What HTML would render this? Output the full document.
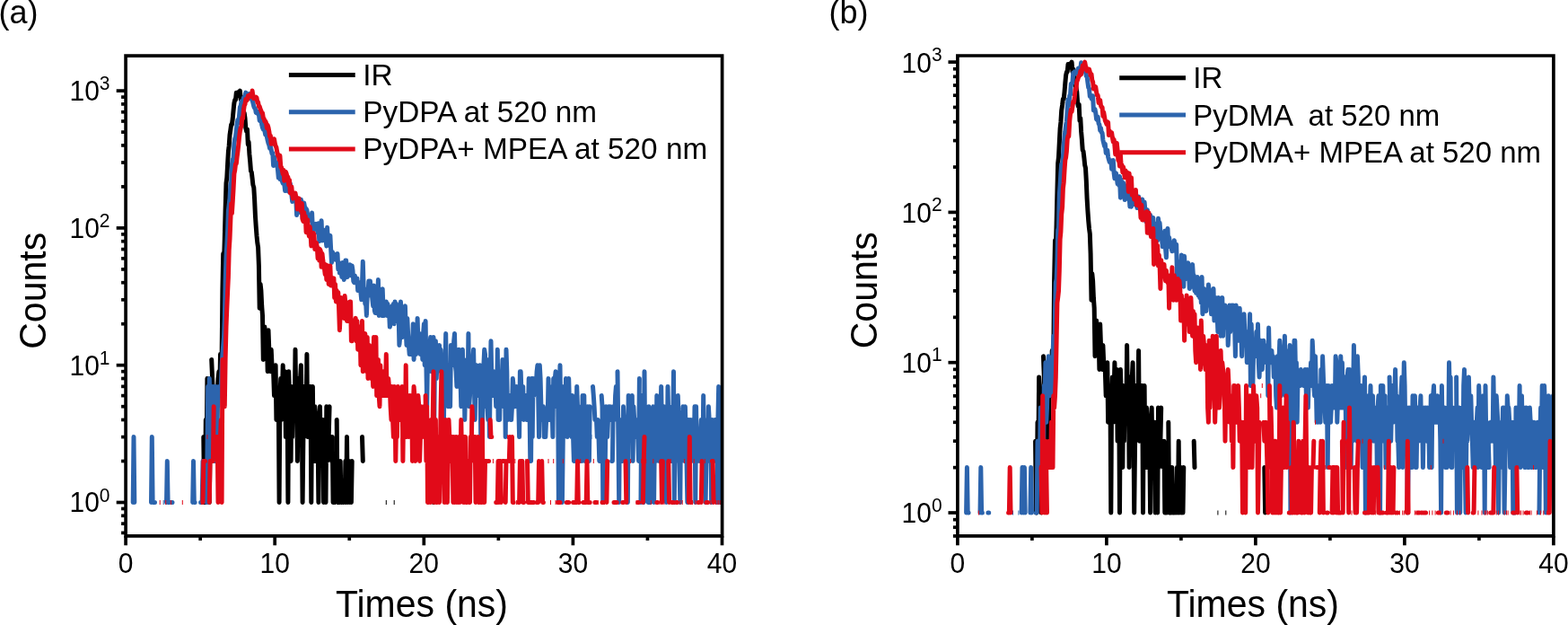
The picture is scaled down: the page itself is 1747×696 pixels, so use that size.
<!DOCTYPE html>
<html><head><meta charset="utf-8"><title>Fluorescence decay</title>
<style>html,body{margin:0;padding:0;background:#fff;}body{width:1747px;height:696px;overflow:hidden;}svg{display:block;}</style>
</head><body>
<svg width="1747" height="696" viewBox="0 0 1747 696" font-family='"Liberation Sans", Arial, sans-serif'>
<rect width="1747" height="696" fill="#fff"/>
<clipPath id="clipa"><rect x="140.1" y="62.1" width="664.5" height="534.8"/></clipPath>
<g clip-path="url(#clipa)" fill="none" stroke-width="5" stroke-linejoin="round" stroke-linecap="round">
<path d="M226.8 486.6 L227.6 559.5 L228.5 559.5 L229.3 467.5 L230.1 513.5 L230.9 421.5 L231.7 430.4 L232.5 440.6 L233.3 559.5 L234.1 486.6 M235.7 400.4 L236.6 421.5 L237.4 440.6 L238.2 452.7 L239.0 430.4 L239.8 452.7 L240.6 513.5 L241.4 513.5 L242.2 440.6 L243.0 421.5 L243.9 413.7 L244.7 440.6 L245.5 394.6 L246.3 394.6 L247.1 400.4 L247.9 323.6 L248.7 282.5 L249.5 292.4 L250.3 265.5 L251.1 234.0 L252.0 204.0 L252.8 197.8 L253.6 183.0 L254.4 168.9 L255.2 162.2 L256.0 150.4 L256.8 144.8 L257.6 138.8 L258.4 138.8 L259.3 131.6 L260.1 122.7 L260.9 114.8 L261.7 111.3 L262.5 111.2 L263.3 103.3 L264.1 106.7 L264.9 104.9 L265.7 102.6 L266.5 104.3 L267.4 101.1 L268.2 110.8 L269.0 108.2 L269.8 113.8 L270.6 116.6 L271.4 125.4 L272.2 125.9 L273.0 131.6 L273.8 142.5 L274.7 146.3 L275.5 144.2 L276.3 160.9 L277.1 158.2 L277.9 171.7 L278.7 180.1 L279.5 190.5 L280.3 191.8 L281.1 198.6 L281.9 205.9 L282.8 208.9 L283.6 221.9 L284.4 239.6 L285.2 251.9 L286.0 262.4 L286.8 270.4 L287.6 275.7 L288.4 296.0 L289.2 343.3 L290.1 316.4 L290.9 323.6 L291.7 340.8 L292.5 351.4 L293.3 400.4 L294.1 364.1 L294.9 364.1 L295.7 384.4 L296.5 389.3 L297.4 379.8 L298.2 413.7 L299.0 367.7 L299.8 389.3 L300.6 400.4 L301.4 413.7 L302.2 389.3 L303.0 406.7 L303.8 413.7 L304.6 413.7 L305.5 440.6 L306.3 413.7 L307.1 406.7 L307.9 467.5 L308.7 467.5 L309.5 452.7 L310.3 440.6 L311.1 559.5 L311.9 440.6 L312.8 421.5 L313.6 467.5 L314.4 440.6 L315.2 406.7 L316.0 440.6 L316.8 421.5 L317.6 413.7 L318.4 486.6 L319.2 430.4 L320.0 430.4 L320.9 559.5 L321.7 413.7 L322.5 440.6 L323.3 486.6 L324.1 513.5 L324.9 430.4 L325.7 486.6 L326.5 440.6 L327.3 430.4 L328.2 467.5 L329.0 389.3 L329.8 452.7 L330.6 430.4 L331.4 513.5 L332.2 421.5 L333.0 467.5 L333.8 440.6 L334.6 421.5 L335.4 406.7 L336.3 467.5 L337.1 559.5 L337.9 486.6 L338.7 430.4 L339.5 440.6 L340.3 440.6 L341.1 467.5 L341.9 394.6 L342.7 486.6 L343.6 452.7 L344.4 486.6 L345.2 430.4 L346.0 430.4 L346.8 559.5 L347.6 440.6 L348.4 430.4 L349.2 513.5 L350.0 513.5 L350.8 452.7 L351.7 467.5 L352.5 513.5 L353.3 486.6 L354.1 486.6 L354.9 559.5 L355.7 467.5 L356.5 452.7 L357.3 513.5 L358.1 467.5 L359.0 467.5 L359.8 467.5 L360.6 559.5 L361.4 513.5 L362.2 486.6 L363.0 559.5 L363.8 452.7 L364.6 513.5 L365.4 486.6 L366.2 486.6 L367.1 452.7 M368.7 486.6 L369.5 513.5 L370.3 486.6 L371.1 559.5 L371.9 559.5 M375.2 467.5 L376.0 559.5 L376.8 559.5 M378.4 559.5 L379.2 513.5 L380.0 559.5 L380.8 559.5 M384.1 559.5 L384.9 513.5 L385.7 559.5 L386.5 486.6 L387.3 559.5 M388.9 513.5 L389.8 559.5 M391.4 559.5 L392.2 513.5 M403.5 486.6 L404.3 513.5 M482.2 513.5 L483.0 559.5" stroke="#000000"/>
<path d="M373.0 559.5h1 M382.0 559.5h1 M429.8 559.5h1 M438.7 559.5h1" stroke="#000000" stroke-linecap="butt"/>
<path d="M148.2 559.5 L149.0 486.6 L149.8 559.5 M168.5 559.5 L169.3 486.6 L170.1 559.5 L170.9 559.5 L171.7 559.5 L172.5 559.5 M185.5 559.5 L186.3 513.5 L187.1 559.5 L187.9 559.5 L188.7 559.5 M191.2 559.5 L192.0 559.5 M214.7 559.5 L215.5 513.5 L216.3 559.5 L217.1 559.5 M223.6 559.5 L224.4 559.5 L225.2 559.5 L226.0 513.5 M227.6 513.5 L228.5 513.5 L229.3 513.5 L230.1 559.5 L230.9 513.5 L231.7 430.4 L232.5 559.5 L233.3 421.5 L234.1 452.7 L234.9 513.5 M236.6 430.4 L237.4 486.6 L238.2 513.5 L239.0 430.4 L239.8 513.5 L240.6 430.4 L241.4 486.6 L242.2 452.7 L243.0 452.7 L243.9 430.4 L244.7 430.4 L245.5 440.6 L246.3 430.4 L247.1 406.7 L247.9 394.6 L248.7 384.4 L249.5 375.5 L250.3 354.4 L251.1 313.1 L252.0 285.6 L252.8 273.0 L253.6 258.0 L254.4 234.5 L255.2 227.9 L256.0 221.1 L256.8 205.9 L257.6 203.4 L258.4 183.0 L259.3 177.5 L260.1 176.1 L260.9 159.6 L261.7 154.7 L262.5 152.5 L263.3 144.9 L264.1 138.1 L264.9 133.5 L265.7 136.9 L266.5 129.2 L267.4 119.2 L268.2 117.8 L269.0 112.8 L269.8 114.1 L270.6 113.5 L271.4 108.8 L272.2 109.5 L273.0 106.8 L273.8 103.1 L274.7 106.4 L275.5 104.5 L276.3 105.8 L277.1 107.0 L277.9 104.6 L278.7 108.0 L279.5 110.0 L280.3 109.2 L281.1 111.3 L281.9 114.8 L282.8 118.4 L283.6 120.2 L284.4 120.9 L285.2 125.3 L286.0 125.8 L286.8 124.2 L287.6 125.8 L288.4 127.2 L289.2 134.2 L290.1 134.7 L290.9 133.5 L291.7 139.0 L292.5 142.1 L293.3 144.1 L294.1 139.8 L294.9 145.8 L295.7 149.9 L296.5 146.6 L297.4 152.5 L298.2 156.5 L299.0 159.6 L299.8 161.4 L300.6 165.3 L301.4 163.2 L302.2 166.7 L303.0 171.0 L303.8 170.2 L304.6 184.4 L305.5 174.9 L306.3 181.4 L307.1 183.9 L307.9 180.8 L308.7 181.9 L309.5 189.2 L310.3 198.1 L311.1 195.3 L311.9 199.5 L312.8 191.8 L313.6 200.1 L314.4 201.9 L315.2 204.3 L316.0 201.6 L316.8 205.3 L317.6 212.4 L318.4 212.4 L319.2 198.3 L320.0 201.9 L320.9 212.7 L321.7 213.4 L322.5 208.2 L323.3 204.3 L324.1 209.6 L324.9 217.1 L325.7 224.4 L326.5 220.7 L327.3 218.3 L328.2 224.0 L329.0 217.1 L329.8 221.5 L330.6 239.6 L331.4 227.4 L332.2 224.4 L333.0 223.1 L333.8 235.0 L334.6 236.5 L335.4 222.3 L336.3 227.0 L337.1 243.5 L337.9 234.5 L338.7 226.1 L339.5 230.2 L340.3 231.6 L341.1 232.5 L341.9 234.0 L342.7 239.1 L343.6 240.7 L344.4 241.3 L345.2 243.5 L346.0 241.3 L346.8 245.8 L347.6 237.0 L348.4 256.6 L349.2 248.8 L350.0 255.2 L350.8 250.0 L351.7 249.4 L352.5 250.7 L353.3 254.6 L354.1 259.4 L354.9 248.8 L355.7 268.7 L356.5 253.2 L357.3 253.2 L358.1 245.8 L359.0 267.9 L359.8 255.9 L360.6 255.9 L361.4 258.0 L362.2 265.5 L363.0 267.1 L363.8 273.9 L364.6 253.2 L365.4 271.2 L366.2 273.0 L367.1 263.9 L367.9 262.4 L368.7 278.5 L369.5 292.4 L370.3 280.5 L371.1 282.5 L371.9 283.5 L372.7 288.9 L373.5 283.5 L374.4 287.8 L375.2 290.0 L376.0 282.5 L376.8 299.9 L377.6 292.4 L378.4 304.0 L379.2 293.6 L380.0 298.6 L380.8 308.4 L381.6 292.4 L382.5 299.9 L383.3 311.5 L384.1 305.4 L384.9 290.0 L385.7 290.0 L386.5 308.4 L387.3 308.4 L388.1 304.0 L388.9 301.2 L389.8 294.8 L390.6 305.4 L391.4 306.9 L392.2 296.0 L393.0 301.2 L393.8 313.1 L394.6 314.7 L395.4 306.9 L396.2 314.7 L397.1 309.9 L397.9 309.9 L398.7 323.6 L399.5 318.1 L400.3 321.7 L401.1 314.7 L401.9 325.5 L402.7 333.8 L403.5 316.4 L404.3 291.2 L405.2 321.7 L406.0 321.7 L406.8 338.4 L407.6 336.0 L408.4 351.4 L409.2 329.5 L410.0 327.5 L410.8 313.1 L411.6 321.7 L412.5 313.1 L413.3 329.5 L414.1 325.5 L414.9 333.8 L415.7 340.8 L416.5 318.1 L417.3 345.9 L418.1 348.6 L418.9 348.6 L419.7 340.8 L420.6 331.6 L421.4 311.5 L422.2 351.4 L423.0 338.4 L423.8 336.0 L424.6 336.0 L425.4 351.4 L426.2 321.7 L427.0 343.3 L427.9 351.4 L428.7 348.6 L429.5 340.8 L430.3 336.0 L431.1 351.4 L431.9 338.4 L432.7 345.9 L433.5 345.9 L434.3 364.1 L435.1 360.7 L436.0 343.3 L436.8 340.8 L437.6 351.4 L438.4 338.4 L439.2 360.7 L440.0 336.0 L440.8 340.8 L441.6 338.4 L442.4 345.9 L443.3 357.5 L444.1 348.6 L444.9 384.4 L445.7 375.5 L446.5 336.0 L447.3 367.7 L448.1 375.5 L448.9 364.1 L449.7 357.5 L450.5 357.5 L451.4 340.8 L452.2 367.7 L453.0 384.4 L453.8 354.4 L454.6 371.5 L455.4 384.4 L456.2 394.6 L457.0 384.4 L457.8 389.3 L458.7 394.6 L459.5 384.4 L460.3 360.7 L461.1 400.4 L461.9 379.8 L462.7 364.1 L463.5 394.6 L464.3 389.3 L465.1 354.4 L465.9 379.8 L466.8 389.3 L467.6 371.5 L468.4 394.6 L469.2 384.4 L470.0 379.8 L470.8 400.4 L471.6 371.5 L472.4 360.7 L473.2 406.7 L474.1 357.5 L474.9 406.7 L475.7 452.7 L476.5 400.4 L477.3 406.7 L478.1 379.8 L478.9 384.4 L479.7 375.5 L480.5 413.7 L481.3 400.4 L482.2 384.4 L483.0 375.5 L483.8 467.5 L484.6 389.3 L485.4 379.8 L486.2 421.5 L487.0 406.7 L487.8 413.7 L488.6 400.4 L489.5 384.4 L490.3 406.7 L491.1 389.3 L491.9 406.7 L492.7 400.4 L493.5 440.6 L494.3 486.6 L495.1 406.7 L495.9 413.7 L496.7 371.5 L497.6 440.6 L498.4 440.6 L499.2 452.7 L500.0 406.7 L500.8 413.7 L501.6 452.7 L502.4 384.4 L503.2 400.4 L504.0 406.7 L504.9 394.6 L505.7 379.8 L506.5 371.5 L507.3 406.7 L508.1 413.7 L508.9 430.4 L509.7 400.4 L510.5 406.7 L511.3 389.3 L512.2 430.4 L513.0 421.5 L513.8 452.7 L514.6 400.4 L515.4 389.3 L516.2 430.4 L517.0 400.4 L517.8 467.5 L518.6 430.4 L519.4 406.7 L520.3 421.5 L521.1 440.6 L521.9 371.5 L522.7 452.7 L523.5 440.6 L524.3 413.7 L525.1 430.4 L525.9 413.7 L526.7 400.4 L527.6 389.3 L528.4 430.4 L529.2 467.5 L530.0 413.7 L530.8 406.7 L531.6 440.6 L532.4 421.5 L533.2 440.6 L534.0 413.7 L534.8 406.7 L535.7 486.6 L536.5 421.5 L537.3 486.6 L538.1 430.4 L538.9 406.7 L539.7 389.3 L540.5 394.6 L541.3 452.7 L542.1 400.4 L543.0 452.7 L543.8 467.5 L544.6 400.4 L545.4 486.6 L546.2 421.5 L547.0 379.8 L547.8 421.5 L548.6 430.4 L549.4 440.6 L550.2 413.7 L551.1 440.6 L551.9 430.4 L552.7 452.7 L553.5 452.7 L554.3 389.3 L555.1 467.5 L555.9 413.7 L556.7 467.5 L557.5 421.5 L558.4 421.5 L559.2 421.5 L560.0 400.4 L560.8 452.7 L561.6 430.4 L562.4 406.7 L563.2 486.6 L564.0 389.3 L564.8 413.7 L565.6 467.5 L566.5 452.7 L567.3 452.7 L568.1 440.6 L568.9 467.5 L569.7 467.5 L570.5 452.7 L571.3 421.5 L572.1 430.4 L572.9 440.6 L573.8 452.7 L574.6 440.6 L575.4 430.4 L576.2 452.7 L577.0 452.7 L577.8 452.7 L578.6 486.6 L579.4 413.7 L580.2 413.7 L581.0 440.6 L581.9 440.6 L582.7 430.4 L583.5 467.5 L584.3 440.6 L585.1 440.6 L585.9 440.6 L586.7 467.5 L587.5 440.6 L588.3 467.5 L589.2 421.5 L590.0 452.7 L590.8 513.5 L591.6 513.5 L592.4 421.5 L593.2 486.6 L594.0 421.5 L594.8 440.6 L595.6 421.5 L596.4 430.4 L597.3 430.4 L598.1 413.7 L598.9 406.7 L599.7 440.6 L600.5 486.6 L601.3 406.7 L602.1 421.5 L602.9 452.7 L603.7 467.5 L604.6 452.7 L605.4 452.7 L606.2 486.6 L607.0 467.5 L607.8 486.6 L608.6 467.5 L609.4 467.5 L610.2 467.5 L611.0 421.5 L611.9 467.5 L612.7 430.4 L613.5 467.5 L614.3 467.5 L615.1 452.7 L615.9 486.6 L616.7 421.5 L617.5 452.7 L618.3 421.5 L619.1 413.7 L620.0 452.7 L620.8 430.4 L621.6 430.4 L622.4 559.5 L623.2 440.6 L624.0 406.7 L624.8 467.5 L625.6 430.4 L626.4 559.5 L627.3 486.6 L628.1 430.4 L628.9 467.5 L629.7 467.5 L630.5 421.5 L631.3 452.7 L632.1 486.6 L632.9 430.4 L633.7 421.5 L634.5 452.7 L635.4 467.5 L636.2 467.5 L637.0 486.6 L637.8 440.6 L638.6 486.6 L639.4 513.5 L640.2 513.5 L641.0 452.7 L641.8 486.6 L642.7 430.4 L643.5 452.7 L644.3 513.5 L645.1 467.5 L645.9 513.5 L646.7 467.5 L647.5 452.7 L648.3 513.5 L649.1 440.6 L649.9 452.7 L650.8 440.6 L651.6 513.5 L652.4 486.6 L653.2 452.7 L654.0 513.5 L654.8 452.7 L655.6 467.5 L656.4 513.5 L657.2 452.7 M660.5 430.4 L661.3 440.6 L662.1 452.7 L662.9 467.5 L663.7 467.5 L664.5 467.5 L665.3 486.6 L666.2 467.5 L667.0 486.6 L667.8 513.5 L668.6 513.5 M670.2 440.6 L671.0 452.7 L671.8 559.5 L672.6 486.6 L673.5 513.5 L674.3 513.5 L675.1 452.7 L675.9 467.5 L676.7 486.6 L677.5 467.5 L678.3 452.7 L679.1 467.5 L679.9 452.7 M681.6 513.5 L682.4 513.5 L683.2 452.7 L684.0 452.7 L684.8 467.5 L685.6 440.6 L686.4 430.4 M688.0 413.7 L688.9 486.6 L689.7 559.5 L690.5 467.5 L691.3 513.5 L692.1 467.5 L692.9 513.5 L693.7 513.5 L694.5 452.7 L695.3 467.5 L696.1 467.5 L697.0 486.6 L697.8 513.5 M699.4 559.5 L700.2 440.6 L701.0 486.6 L701.8 467.5 L702.6 467.5 L703.4 452.7 L704.3 440.6 L705.1 513.5 L705.9 452.7 L706.7 467.5 L707.5 486.6 L708.3 486.6 L709.1 486.6 L709.9 467.5 L710.7 486.6 L711.6 513.5 L712.4 421.5 M714.0 559.5 L714.8 440.6 L715.6 467.5 L716.4 486.6 L717.2 559.5 L718.0 413.7 L718.8 513.5 L719.7 486.6 L720.5 467.5 L721.3 486.6 L722.1 559.5 L722.9 452.7 L723.7 486.6 L724.5 559.5 L725.3 513.5 L726.1 467.5 L727.0 486.6 L727.8 452.7 L728.6 559.5 L729.4 486.6 L730.2 467.5 L731.0 513.5 L731.8 440.6 L732.6 486.6 M734.2 513.5 L735.1 467.5 L735.9 467.5 L736.7 430.4 L737.5 486.6 L738.3 452.7 L739.1 513.5 L739.9 452.7 L740.7 513.5 L741.5 486.6 L742.4 559.5 L743.2 513.5 L744.0 430.4 L744.8 467.5 L745.6 452.7 L746.4 467.5 L747.2 486.6 L748.0 513.5 L748.8 513.5 L749.6 486.6 L750.5 413.7 L751.3 559.5 L752.1 486.6 L752.9 452.7 L753.7 513.5 M755.3 440.6 L756.1 467.5 L756.9 513.5 L757.8 559.5 L758.6 467.5 L759.4 486.6 L760.2 467.5 L761.0 452.7 L761.8 467.5 L762.6 513.5 L763.4 452.7 L764.2 486.6 L765.0 513.5 L765.9 559.5 L766.7 467.5 L767.5 513.5 L768.3 486.6 L769.1 467.5 L769.9 513.5 L770.7 513.5 L771.5 467.5 L772.3 467.5 L773.2 513.5 L774.0 452.7 L774.8 559.5 L775.6 452.7 L776.4 513.5 L777.2 513.5 M778.8 486.6 L779.6 513.5 L780.4 486.6 L781.3 467.5 L782.1 467.5 L782.9 513.5 L783.7 440.6 L784.5 513.5 L785.3 467.5 L786.1 559.5 L786.9 513.5 L787.7 467.5 L788.6 513.5 L789.4 452.7 L790.2 467.5 L791.0 467.5 L791.8 467.5 L792.6 559.5 L793.4 467.5 L794.2 486.6 L795.0 486.6 L795.8 513.5 L796.7 467.5 L797.5 467.5 M799.1 559.5 L799.9 467.5 L800.7 430.4 L801.5 486.6 L802.3 559.5 L803.1 559.5 L804.0 467.5" stroke="#2C64AD"/>
<path d="M181.7 559.5h1 M658.4 486.6h1" stroke="#2C64AD" stroke-linecap="butt"/>
<path d="M226.0 559.5 L226.8 513.5 L227.6 513.5 L228.5 513.5 M233.3 559.5 L234.1 513.5 L234.9 513.5 L235.7 513.5 L236.6 513.5 L237.4 513.5 L238.2 452.7 M241.4 486.6 L242.2 486.6 L243.0 559.5 L243.9 513.5 L244.7 486.6 L245.5 486.6 L246.3 467.5 L247.1 559.5 L247.9 400.4 L248.7 400.4 L249.5 440.6 L250.3 452.7 L251.1 400.4 L252.0 364.1 L252.8 343.3 L253.6 325.5 L254.4 308.4 L255.2 278.5 L256.0 266.3 L256.8 246.4 L257.6 227.0 L258.4 237.5 L259.3 223.5 L260.1 209.9 L260.9 193.6 L261.7 189.7 L262.5 182.6 L263.3 182.3 L264.1 174.9 L264.9 168.9 L265.7 161.7 L266.5 153.5 L267.4 146.0 L268.2 142.4 L269.0 140.3 L269.8 131.2 L270.6 131.9 L271.4 123.4 L272.2 117.6 L273.0 116.1 L273.8 110.6 L274.7 112.1 L275.5 111.0 L276.3 106.7 L277.1 106.6 L277.9 105.8 L278.7 106.9 L279.5 104.9 L280.3 107.7 L281.1 101.1 L281.9 107.0 L282.8 109.6 L283.6 109.7 L284.4 109.4 L285.2 108.2 L286.0 108.9 L286.8 114.0 L287.6 113.8 L288.4 118.5 L289.2 118.6 L290.1 121.5 L290.9 123.3 L291.7 125.7 L292.5 125.8 L293.3 131.2 L294.1 132.1 L294.9 135.2 L295.7 134.9 L296.5 136.8 L297.4 142.7 L298.2 139.5 L299.0 142.1 L299.8 146.2 L300.6 151.9 L301.4 151.2 L302.2 160.3 L303.0 154.5 L303.8 155.7 L304.6 160.1 L305.5 154.8 L306.3 159.6 L307.1 162.7 L307.9 164.1 L308.7 169.1 L309.5 173.1 L310.3 174.1 L311.1 178.0 L311.9 173.1 L312.8 185.8 L313.6 186.5 L314.4 190.0 L315.2 193.6 L316.0 189.5 L316.8 201.3 L317.6 191.3 L318.4 191.5 L319.2 193.4 L320.0 197.2 L320.9 197.2 L321.7 205.9 L322.5 200.4 L323.3 214.9 L324.1 213.1 L324.9 207.9 L325.7 217.1 L326.5 221.1 L327.3 217.1 L328.2 219.9 L329.0 214.9 L329.8 219.9 L330.6 220.3 L331.4 233.0 L332.2 220.7 L333.0 221.1 L333.8 232.0 L334.6 231.1 L335.4 235.0 L336.3 226.6 L337.1 244.1 L337.9 246.4 L338.7 236.5 L339.5 246.4 L340.3 240.7 L341.1 258.7 L341.9 248.2 L342.7 244.6 L343.6 258.7 L344.4 263.1 L345.2 252.6 L346.0 259.4 L346.8 273.9 L347.6 261.6 L348.4 267.9 L349.2 259.4 L350.0 261.6 L350.8 277.6 L351.7 272.1 L352.5 270.4 L353.3 274.8 L354.1 287.8 L354.9 276.6 L355.7 290.0 L356.5 277.6 L357.3 279.5 L358.1 297.3 L359.0 282.5 L359.8 290.0 L360.6 294.8 L361.4 298.6 L362.2 305.4 L363.0 294.8 L363.8 311.5 L364.6 299.9 L365.4 296.0 L366.2 316.4 L367.1 304.0 L367.9 296.0 L368.7 318.1 L369.5 318.1 L370.3 318.1 L371.1 313.1 L371.9 309.9 L372.7 331.6 L373.5 316.4 L374.4 336.0 L375.2 323.6 L376.0 336.0 L376.8 325.5 L377.6 343.3 L378.4 367.7 L379.2 348.6 L380.0 331.6 L380.8 333.8 L381.6 333.8 L382.5 343.3 L383.3 354.4 L384.1 329.5 L384.9 338.4 L385.7 336.0 L386.5 357.5 L387.3 357.5 L388.1 354.4 L388.9 343.3 L389.8 336.0 L390.6 336.0 L391.4 379.8 L392.2 379.8 L393.0 364.1 L393.8 375.5 L394.6 367.7 L395.4 357.5 L396.2 354.4 L397.1 379.8 L397.9 357.5 L398.7 389.3 L399.5 379.8 L400.3 367.7 L401.1 364.1 L401.9 406.7 L402.7 389.3 L403.5 357.5 L404.3 413.7 L405.2 384.4 L406.0 406.7 L406.8 371.5 L407.6 394.6 L408.4 413.7 L409.2 375.5 L410.0 421.5 L410.8 384.4 L411.6 384.4 L412.5 389.3 L413.3 421.5 L414.1 394.6 L414.9 413.7 L415.7 430.4 L416.5 375.5 L417.3 384.4 L418.1 400.4 L418.9 375.5 L419.7 440.6 L420.6 421.5 L421.4 400.4 L422.2 440.6 L423.0 452.7 L423.8 406.7 L424.6 440.6 L425.4 430.4 L426.2 440.6 L427.0 413.7 L427.9 413.7 L428.7 440.6 L429.5 430.4 L430.3 394.6 L431.1 440.6 L431.9 430.4 L432.7 421.5 L433.5 430.4 L434.3 430.4 L435.1 452.7 L436.0 467.5 L436.8 430.4 L437.6 467.5 L438.4 486.6 L439.2 430.4 L440.0 440.6 L440.8 513.5 L441.6 467.5 L442.4 486.6 L443.3 430.4 L444.1 452.7 L444.9 467.5 L445.7 467.5 L446.5 440.6 L447.3 467.5 L448.1 430.4 L448.9 513.5 L449.7 452.7 L450.5 440.6 L451.4 486.6 L452.2 406.7 L453.0 486.6 L453.8 467.5 L454.6 452.7 L455.4 486.6 L456.2 440.6 L457.0 452.7 L457.8 467.5 L458.7 440.6 L459.5 513.5 L460.3 452.7 L461.1 430.4 L461.9 440.6 L462.7 513.5 L463.5 486.6 L464.3 452.7 L465.1 486.6 L465.9 440.6 L466.8 452.7 L467.6 513.5 L468.4 486.6 L469.2 452.7 L470.0 486.6 L470.8 486.6 L471.6 467.5 L472.4 452.7 M474.1 440.6 L474.9 513.5 L475.7 452.7 L476.5 559.5 L477.3 559.5 L478.1 486.6 L478.9 513.5 L479.7 559.5 L480.5 467.5 L481.3 486.6 L482.2 467.5 L483.0 413.7 L483.8 559.5 L484.6 467.5 L485.4 467.5 L486.2 559.5 L487.0 559.5 L487.8 486.6 L488.6 513.5 L489.5 559.5 L490.3 513.5 L491.1 452.7 L491.9 413.7 L492.7 513.5 L493.5 467.5 L494.3 486.6 L495.1 559.5 L495.9 513.5 L496.7 467.5 L497.6 513.5 L498.4 559.5 L499.2 513.5 L500.0 467.5 L500.8 486.6 L501.6 513.5 M503.2 486.6 L504.0 486.6 L504.9 559.5 L505.7 486.6 L506.5 559.5 L507.3 513.5 L508.1 486.6 L508.9 559.5 M510.5 559.5 L511.3 486.6 L512.2 559.5 L513.0 513.5 L513.8 467.5 L514.6 513.5 L515.4 486.6 L516.2 559.5 L517.0 486.6 L517.8 559.5 L518.6 486.6 L519.4 559.5 L520.3 559.5 L521.1 513.5 L521.9 513.5 L522.7 559.5 L523.5 559.5 L524.3 486.6 L525.1 513.5 L525.9 452.7 L526.7 467.5 M528.4 486.6 L529.2 486.6 L530.0 559.5 M532.4 486.6 L533.2 559.5 L534.0 559.5 L534.8 513.5 L535.7 559.5 L536.5 559.5 L537.3 467.5 L538.1 559.5 L538.9 513.5 L539.7 559.5 L540.5 513.5 L541.3 513.5 L542.1 513.5 M543.8 513.5 L544.6 513.5 M546.2 467.5 L547.0 486.6 L547.8 486.6 M552.7 559.5 L553.5 559.5 L554.3 559.5 L555.1 513.5 L555.9 559.5 L556.7 513.5 L557.5 513.5 L558.4 559.5 M560.0 513.5 L560.8 513.5 L561.6 513.5 M563.2 559.5 L564.0 513.5 M567.3 513.5 L568.1 486.6 M570.5 486.6 L571.3 559.5 L572.1 559.5 M577.8 559.5 L578.6 559.5 L579.4 513.5 M581.0 513.5 L581.9 513.5 L582.7 559.5 L583.5 559.5 M587.5 513.5 L588.3 559.5 M590.0 559.5 L590.8 559.5 L591.6 559.5 L592.4 559.5 M594.0 559.5 L594.8 559.5 M598.9 559.5 L599.7 559.5 L600.5 513.5 M603.7 513.5 L604.6 559.5 L605.4 559.5 M621.6 559.5 L622.4 559.5 L623.2 559.5 L624.0 559.5 M631.3 559.5 L632.1 559.5 L632.9 559.5 L633.7 559.5 M638.6 559.5 L639.4 559.5 L640.2 559.5 M641.8 559.5 L642.7 559.5 L643.5 513.5 L644.3 559.5 L645.1 559.5 M649.9 559.5 L650.8 559.5 M652.4 559.5 L653.2 559.5 L654.0 513.5 L654.8 559.5 M656.4 559.5 L657.2 559.5 M662.9 559.5 L663.7 559.5 L664.5 559.5 M671.0 559.5 L671.8 559.5 M675.9 559.5 L676.7 513.5 M684.0 559.5 L684.8 559.5 L685.6 559.5 L686.4 559.5 L687.2 559.5 M693.7 559.5 L694.5 559.5 M697.0 513.5 L697.8 559.5 M710.7 559.5 L711.6 559.5 M716.4 559.5 L717.2 513.5 L718.0 486.6 M731.8 559.5 L732.6 559.5 M736.7 513.5 L737.5 559.5 L738.3 513.5 M744.8 513.5 L745.6 559.5 M748.8 559.5 L749.6 559.5 M753.7 559.5 L754.5 559.5 M767.5 559.5 L768.3 486.6 L769.1 559.5 L769.9 559.5 M778.0 559.5 L778.8 559.5 M781.3 559.5 L782.1 513.5 M786.9 559.5 L787.7 559.5 L788.6 559.5 M793.4 513.5 L794.2 513.5 L795.0 559.5" stroke="#E10A19"/>
<path d="M177.7 559.5h1 M184.2 559.5h1 M189.9 559.5h1 M202.8 559.5h1 M223.9 559.5h1 M230.4 486.6h1 M239.3 486.6h1 M548.9 513.5h1 M565.1 486.6h1 M573.3 513.5h1 M574.9 559.5h1 M585.4 513.5h1 M596.8 559.5h1 M610.5 513.5h1 M613.0 559.5h1 M616.2 513.5h1 M618.6 559.5h1 M626.8 513.5h1 M646.2 513.5h1 M660.8 513.5h1 M665.7 559.5h1 M673.0 559.5h1 M702.1 513.5h1 M708.6 559.5h1 M714.3 513.5h1 M719.2 513.5h1 M724.8 559.5h1 M727.3 513.5h1 M734.6 559.5h1 M739.4 559.5h1 M746.7 513.5h1 M750.8 559.5h1 M757.3 559.5h1 M759.7 559.5h1 M762.1 513.5h1 M771.0 559.5h1 M772.7 513.5h1 M774.3 559.5h1 M784.8 513.5h1 M791.3 559.5h1 M797.0 559.5h1 M798.6 559.5h1 M800.2 559.5h1 M801.8 559.5h1 M803.5 559.5h1" stroke="#E10A19" stroke-linecap="butt"/>
</g>
<path d="M140.1 62.1 H804.6 V596.9 H140.1 Z" fill="none" stroke="#000" stroke-width="3.7" stroke-linejoin="miter"/>
<line x1="140.10" y1="596.9" x2="140.10" y2="607.3" stroke="#000" stroke-width="3.7"/>
<text transform="translate(140.10 637.70) scale(1 1.041)" font-size="30" text-anchor="middle">0</text>
<line x1="223.15" y1="596.9" x2="223.15" y2="601.9" stroke="#000" stroke-width="3.7"/>
<line x1="306.20" y1="596.9" x2="306.20" y2="607.3" stroke="#000" stroke-width="3.7"/>
<text transform="translate(306.20 637.70) scale(1 1.041)" font-size="30" text-anchor="middle">10</text>
<line x1="389.25" y1="596.9" x2="389.25" y2="601.9" stroke="#000" stroke-width="3.7"/>
<line x1="472.30" y1="596.9" x2="472.30" y2="607.3" stroke="#000" stroke-width="3.7"/>
<text transform="translate(472.30 637.70) scale(1 1.041)" font-size="30" text-anchor="middle">20</text>
<line x1="555.35" y1="596.9" x2="555.35" y2="601.9" stroke="#000" stroke-width="3.7"/>
<line x1="638.40" y1="596.9" x2="638.40" y2="607.3" stroke="#000" stroke-width="3.7"/>
<text transform="translate(638.40 637.70) scale(1 1.041)" font-size="30" text-anchor="middle">30</text>
<line x1="721.45" y1="596.9" x2="721.45" y2="601.9" stroke="#000" stroke-width="3.7"/>
<line x1="804.50" y1="596.9" x2="804.50" y2="607.3" stroke="#000" stroke-width="3.7"/>
<text transform="translate(804.50 637.70) scale(1 1.041)" font-size="30" text-anchor="middle">40</text>
<line x1="140.1" y1="593.40" x2="135.1" y2="593.40" stroke="#000" stroke-width="3.7"/>
<line x1="140.1" y1="583.17" x2="135.1" y2="583.17" stroke="#000" stroke-width="3.7"/>
<line x1="140.1" y1="574.31" x2="135.1" y2="574.31" stroke="#000" stroke-width="3.7"/>
<line x1="140.1" y1="566.49" x2="135.1" y2="566.49" stroke="#000" stroke-width="3.7"/>
<line x1="140.1" y1="559.50" x2="129.7" y2="559.50" stroke="#000" stroke-width="3.7"/>
<text transform="translate(77.50 570.30) scale(1 1.041)" font-size="30">10<tspan font-size="21" dy="-11.24">0</tspan></text>
<line x1="140.1" y1="513.50" x2="135.1" y2="513.50" stroke="#000" stroke-width="3.7"/>
<line x1="140.1" y1="486.60" x2="135.1" y2="486.60" stroke="#000" stroke-width="3.7"/>
<line x1="140.1" y1="467.51" x2="135.1" y2="467.51" stroke="#000" stroke-width="3.7"/>
<line x1="140.1" y1="452.70" x2="135.1" y2="452.70" stroke="#000" stroke-width="3.7"/>
<line x1="140.1" y1="440.60" x2="135.1" y2="440.60" stroke="#000" stroke-width="3.7"/>
<line x1="140.1" y1="430.37" x2="135.1" y2="430.37" stroke="#000" stroke-width="3.7"/>
<line x1="140.1" y1="421.51" x2="135.1" y2="421.51" stroke="#000" stroke-width="3.7"/>
<line x1="140.1" y1="413.69" x2="135.1" y2="413.69" stroke="#000" stroke-width="3.7"/>
<line x1="140.1" y1="406.70" x2="129.7" y2="406.70" stroke="#000" stroke-width="3.7"/>
<text transform="translate(77.50 417.50) scale(1 1.041)" font-size="30">10<tspan font-size="21" dy="-11.24">1</tspan></text>
<line x1="140.1" y1="360.70" x2="135.1" y2="360.70" stroke="#000" stroke-width="3.7"/>
<line x1="140.1" y1="333.80" x2="135.1" y2="333.80" stroke="#000" stroke-width="3.7"/>
<line x1="140.1" y1="314.71" x2="135.1" y2="314.71" stroke="#000" stroke-width="3.7"/>
<line x1="140.1" y1="299.90" x2="135.1" y2="299.90" stroke="#000" stroke-width="3.7"/>
<line x1="140.1" y1="287.80" x2="135.1" y2="287.80" stroke="#000" stroke-width="3.7"/>
<line x1="140.1" y1="277.57" x2="135.1" y2="277.57" stroke="#000" stroke-width="3.7"/>
<line x1="140.1" y1="268.71" x2="135.1" y2="268.71" stroke="#000" stroke-width="3.7"/>
<line x1="140.1" y1="260.89" x2="135.1" y2="260.89" stroke="#000" stroke-width="3.7"/>
<line x1="140.1" y1="253.90" x2="129.7" y2="253.90" stroke="#000" stroke-width="3.7"/>
<text transform="translate(77.50 264.70) scale(1 1.041)" font-size="30">10<tspan font-size="21" dy="-11.24">2</tspan></text>
<line x1="140.1" y1="207.90" x2="135.1" y2="207.90" stroke="#000" stroke-width="3.7"/>
<line x1="140.1" y1="181.00" x2="135.1" y2="181.00" stroke="#000" stroke-width="3.7"/>
<line x1="140.1" y1="161.91" x2="135.1" y2="161.91" stroke="#000" stroke-width="3.7"/>
<line x1="140.1" y1="147.10" x2="135.1" y2="147.10" stroke="#000" stroke-width="3.7"/>
<line x1="140.1" y1="135.00" x2="135.1" y2="135.00" stroke="#000" stroke-width="3.7"/>
<line x1="140.1" y1="124.77" x2="135.1" y2="124.77" stroke="#000" stroke-width="3.7"/>
<line x1="140.1" y1="115.91" x2="135.1" y2="115.91" stroke="#000" stroke-width="3.7"/>
<line x1="140.1" y1="108.09" x2="135.1" y2="108.09" stroke="#000" stroke-width="3.7"/>
<line x1="140.1" y1="101.10" x2="129.7" y2="101.10" stroke="#000" stroke-width="3.7"/>
<text transform="translate(77.50 111.90) scale(1 1.041)" font-size="30">10<tspan font-size="21" dy="-11.24">3</tspan></text>
<clipPath id="clipb"><rect x="1066.9" y="62.0" width="664.0" height="534.9"/></clipPath>
<g clip-path="url(#clipb)" fill="none" stroke-width="5" stroke-linejoin="round" stroke-linecap="round">
<path d="M1153.6 491.2 L1154.4 571.0 L1155.2 571.0 L1156.0 470.3 L1156.8 520.6 L1157.6 419.9 L1158.4 429.6 L1159.2 440.8 L1160.1 571.0 L1160.9 491.2 M1162.5 396.8 L1163.3 419.9 L1164.1 440.8 L1164.9 454.1 L1165.7 429.6 L1166.5 454.1 L1167.3 520.6 L1168.2 520.6 L1169.0 440.8 L1169.8 419.9 L1170.6 411.4 L1171.4 440.8 L1172.2 390.5 L1173.0 390.5 L1173.8 396.8 L1174.6 312.7 L1175.5 267.7 L1176.3 278.5 L1177.1 249.1 L1177.9 214.6 L1178.7 181.8 L1179.5 174.9 L1180.3 158.8 L1181.1 143.3 L1181.9 136.0 L1182.7 123.0 L1183.6 116.9 L1184.4 110.3 L1185.2 110.3 L1186.0 102.4 L1186.8 92.8 L1187.6 84.1 L1188.4 80.2 L1189.2 80.1 L1190.0 71.5 L1190.8 75.2 L1191.7 73.3 L1192.5 70.8 L1193.3 72.6 L1194.1 69.1 L1194.9 79.7 L1195.7 76.9 L1196.5 83.0 L1197.3 86.0 L1198.1 95.7 L1198.9 96.3 L1199.8 102.4 L1200.6 114.4 L1201.4 118.6 L1202.2 116.3 L1203.0 134.6 L1203.8 131.6 L1204.6 146.4 L1205.4 155.6 L1206.2 167.0 L1207.0 168.4 L1207.9 175.9 L1208.7 183.9 L1209.5 187.1 L1210.3 201.3 L1211.1 220.8 L1211.9 234.3 L1212.7 245.7 L1213.5 254.5 L1214.3 260.3 L1215.1 282.5 L1216.0 334.3 L1216.8 304.8 L1217.6 312.7 L1218.4 331.5 L1219.2 343.2 L1220.0 396.8 L1220.8 357.1 L1221.6 357.1 L1222.4 379.3 L1223.2 384.6 L1224.1 374.2 L1224.9 411.4 L1225.7 361.0 L1226.5 384.6 L1227.3 396.8 L1228.1 411.4 L1228.9 384.6 L1229.7 403.7 L1230.5 411.4 L1231.3 411.4 L1232.2 440.8 L1233.0 411.4 L1233.8 403.7 L1234.6 470.3 L1235.4 470.3 L1236.2 454.1 L1237.0 440.8 L1237.8 571.0 L1238.6 440.8 L1239.4 419.9 L1240.3 470.3 L1241.1 440.8 L1241.9 403.7 L1242.7 440.8 L1243.5 419.9 L1244.3 411.4 L1245.1 491.2 L1245.9 429.6 L1246.7 429.6 L1247.5 571.0 L1248.4 411.4 L1249.2 440.8 L1250.0 491.2 L1250.8 520.6 L1251.6 429.6 L1252.4 491.2 L1253.2 440.8 L1254.0 429.6 L1254.8 470.3 L1255.6 384.6 L1256.5 454.1 L1257.3 429.6 L1258.1 520.6 L1258.9 419.9 L1259.7 470.3 L1260.5 440.8 L1261.3 419.9 L1262.1 403.7 L1262.9 470.3 L1263.7 571.0 L1264.6 491.2 L1265.4 429.6 L1266.2 440.8 L1267.0 440.8 L1267.8 470.3 L1268.6 390.5 L1269.4 491.2 L1270.2 454.1 L1271.0 491.2 L1271.9 429.6 L1272.7 429.6 L1273.5 571.0 L1274.3 440.8 L1275.1 429.6 L1275.9 520.6 L1276.7 520.6 L1277.5 454.1 L1278.3 470.3 L1279.1 520.6 L1280.0 491.2 L1280.8 491.2 L1281.6 571.0 L1282.4 470.3 L1283.2 454.1 L1284.0 520.6 L1284.8 470.3 L1285.6 470.3 L1286.4 470.3 L1287.2 571.0 L1288.1 520.6 L1288.9 491.2 L1289.7 571.0 L1290.5 454.1 L1291.3 520.6 L1292.1 491.2 L1292.9 491.2 L1293.7 454.1 M1295.3 491.2 L1296.2 520.6 L1297.0 491.2 L1297.8 571.0 L1298.6 571.0 M1301.8 470.3 L1302.6 571.0 L1303.4 571.0 M1305.1 571.0 L1305.9 520.6 L1306.7 571.0 L1307.5 571.0 M1310.7 571.0 L1311.5 520.6 L1312.4 571.0 L1313.2 491.2 L1314.0 571.0 M1315.6 520.6 L1316.4 571.0 M1318.0 571.0 L1318.8 520.6 M1330.2 491.2 L1331.0 520.6 M1408.8 520.6 L1409.6 571.0" stroke="#000000"/>
<path d="M1299.7 571.0h1 M1308.6 571.0h1 M1356.4 571.0h1 M1365.3 571.0h1" stroke="#000000" stroke-linecap="butt"/>
<path d="M1076.6 571.0 L1077.4 520.6 L1078.2 571.0 L1079.1 571.0 M1092.0 571.0 L1092.8 520.6 L1093.6 571.0 L1094.4 571.0 M1100.9 571.0 L1101.7 571.0 M1138.2 571.0 L1139.0 520.6 L1139.8 520.6 L1140.6 571.0 L1141.4 520.6 L1142.2 571.0 M1147.9 571.0 L1148.7 520.6 L1149.5 571.0 M1154.4 571.0 L1155.2 571.0 L1156.0 491.2 L1156.8 520.6 L1157.6 491.2 L1158.4 520.6 L1159.2 454.1 M1160.9 470.3 L1161.7 454.1 L1162.5 520.6 L1163.3 429.6 L1164.1 440.8 L1164.9 403.7 L1165.7 470.3 L1166.5 454.1 L1167.3 411.4 L1168.2 396.8 L1169.0 419.9 L1169.8 440.8 L1170.6 411.4 L1171.4 419.9 L1172.2 411.4 L1173.0 396.8 L1173.8 374.2 L1174.6 440.8 L1175.5 346.4 L1176.3 314.8 L1177.1 310.6 L1177.9 289.7 L1178.7 256.3 L1179.5 253.5 L1180.3 217.3 L1181.1 206.5 L1181.9 192.5 L1182.7 182.8 L1183.6 189.0 L1184.4 174.0 L1185.2 162.6 L1186.0 152.3 L1186.8 146.4 L1187.6 139.0 L1188.4 135.5 L1189.2 120.8 L1190.0 111.0 L1190.8 117.6 L1191.7 106.6 L1192.5 105.5 L1193.3 93.6 L1194.1 92.3 L1194.9 92.5 L1195.7 81.3 L1196.5 83.5 L1197.3 79.9 L1198.1 81.6 L1198.9 80.2 L1199.8 81.4 L1200.6 77.8 L1201.4 76.0 L1202.2 78.9 L1203.0 78.6 L1203.8 77.5 L1204.6 69.8 L1205.4 73.6 L1206.2 71.3 L1207.0 76.2 L1207.9 77.2 L1208.7 79.8 L1209.5 78.6 L1210.3 84.6 L1211.1 85.0 L1211.9 91.6 L1212.7 97.5 L1213.5 98.6 L1214.3 107.2 L1215.1 106.1 L1216.0 109.7 L1216.8 110.7 L1217.6 106.8 L1218.4 123.0 L1219.2 121.4 L1220.0 121.7 L1220.8 126.0 L1221.6 132.7 L1222.4 133.5 L1223.2 130.1 L1224.1 137.7 L1224.9 138.8 L1225.7 145.2 L1226.5 142.7 L1227.3 147.7 L1228.1 147.9 L1228.9 156.1 L1229.7 159.3 L1230.5 162.6 L1231.3 160.3 L1232.2 170.4 L1233.0 168.4 L1233.8 167.3 L1234.6 174.6 L1235.4 177.5 L1236.2 180.4 L1237.0 180.1 L1237.8 178.8 L1238.6 188.3 L1239.4 187.1 L1240.3 178.5 L1241.1 192.5 L1241.9 198.7 L1242.7 192.5 L1243.5 192.9 L1244.3 197.4 L1245.1 204.6 L1245.9 202.7 L1246.7 206.5 L1247.5 196.6 L1248.4 220.2 L1249.2 200.0 L1250.0 211.4 L1250.8 215.1 L1251.6 203.6 L1252.4 205.5 L1253.2 222.6 L1254.0 215.7 L1254.8 221.4 L1255.6 209.9 L1256.5 206.9 L1257.3 219.6 L1258.1 219.0 L1258.9 230.1 L1259.7 227.5 L1260.5 230.1 L1261.3 216.8 L1262.1 226.9 L1262.9 223.2 L1263.7 227.5 L1264.6 223.8 L1265.4 224.4 L1266.2 228.8 L1267.0 231.5 L1267.8 219.0 L1268.6 219.0 L1269.4 230.1 L1270.2 232.9 L1271.0 231.5 L1271.9 232.2 L1272.7 222.0 L1273.5 235.7 L1274.3 238.6 L1275.1 225.0 L1275.9 234.3 L1276.7 246.5 L1277.5 237.9 L1278.3 233.6 L1279.1 239.4 L1280.0 246.5 L1280.8 245.7 L1281.6 239.4 L1282.4 243.3 L1283.2 263.4 L1284.0 249.9 L1284.8 242.5 L1285.6 261.3 L1286.4 250.8 L1287.2 249.1 L1288.1 255.4 L1288.9 249.1 L1289.7 267.7 L1290.5 243.3 L1291.3 250.8 L1292.1 248.2 L1292.9 258.3 L1293.7 261.3 L1294.5 266.6 L1295.3 274.7 L1296.2 263.4 L1297.0 270.0 L1297.8 257.3 L1298.6 277.2 L1299.4 286.8 L1300.2 263.4 L1301.0 254.5 L1301.8 274.7 L1302.6 264.4 L1303.4 270.0 L1304.3 270.0 L1305.1 276.0 L1305.9 279.8 L1306.7 277.2 L1307.5 273.5 L1308.3 267.7 L1309.1 272.3 L1309.9 279.8 L1310.7 272.3 L1311.5 310.6 L1312.4 317.0 L1313.2 297.7 L1314.0 321.5 L1314.8 291.3 L1315.6 304.8 L1316.4 283.9 L1317.2 312.7 L1318.0 291.3 L1318.8 319.2 L1319.6 285.3 L1320.5 306.7 L1321.3 310.6 L1322.1 308.6 L1322.9 299.4 L1323.7 292.8 L1324.5 301.2 L1325.3 321.5 L1326.1 312.7 L1326.9 310.6 L1327.7 319.2 L1328.6 294.4 L1329.4 306.7 L1330.2 306.7 L1331.0 323.9 L1331.8 314.8 L1332.6 326.3 L1333.4 323.9 L1334.2 308.6 L1335.0 328.9 L1335.8 314.8 L1336.7 331.5 L1337.5 312.7 L1338.3 337.1 L1339.1 308.6 L1339.9 349.8 L1340.7 337.1 L1341.5 321.5 L1342.3 334.3 L1343.1 343.2 L1343.9 346.4 L1344.8 331.5 L1345.6 340.1 L1346.4 317.0 L1347.2 323.9 L1348.0 334.3 L1348.8 331.5 L1349.6 349.8 L1350.4 340.1 L1351.2 326.3 L1352.0 321.5 L1352.9 357.1 L1353.7 349.8 L1354.5 331.5 L1355.3 353.3 L1356.1 349.8 L1356.9 369.6 L1357.7 331.5 L1358.5 369.6 L1359.3 340.1 L1360.1 374.2 L1361.0 361.0 L1361.8 331.5 L1362.6 374.2 L1363.4 340.1 L1364.2 365.1 L1365.0 340.1 L1365.8 361.0 L1366.6 353.3 L1367.4 343.2 L1368.2 384.6 L1369.1 365.1 L1369.9 340.1 L1370.7 369.6 L1371.5 357.1 L1372.3 340.1 L1373.1 353.3 L1373.9 340.1 L1374.7 361.0 L1375.5 357.1 L1376.4 396.8 L1377.2 340.1 L1378.0 369.6 L1378.8 365.1 L1379.6 369.6 L1380.4 379.3 L1381.2 343.2 L1382.0 365.1 L1382.8 369.6 L1383.6 396.8 L1384.5 361.0 L1385.3 369.6 L1386.1 349.8 L1386.9 374.2 L1387.7 384.6 L1388.5 369.6 L1389.3 403.7 L1390.1 396.8 L1390.9 374.2 L1391.7 374.2 L1392.6 349.8 L1393.4 429.6 L1394.2 361.0 L1395.0 390.5 L1395.8 429.6 L1396.6 390.5 L1397.4 379.3 L1398.2 396.8 L1399.0 396.8 L1399.8 369.6 L1400.7 396.8 L1401.5 361.0 L1402.3 403.7 L1403.1 419.9 L1403.9 396.8 L1404.7 379.3 L1405.5 403.7 L1406.3 411.4 L1407.1 390.5 L1407.9 379.3 L1408.8 396.8 L1409.6 390.5 L1410.4 403.7 L1411.2 390.5 L1412.0 384.6 L1412.8 440.8 L1413.6 365.1 L1414.4 403.7 L1415.2 403.7 L1416.0 403.7 L1416.9 390.5 L1417.7 403.7 L1418.5 396.8 L1419.3 419.9 L1420.1 419.9 L1420.9 403.7 L1421.7 440.8 L1422.5 454.1 L1423.3 396.8 L1424.1 440.8 L1425.0 403.7 L1425.8 379.3 L1426.6 390.5 L1427.4 440.8 L1428.2 411.4 L1429.0 403.7 L1429.8 419.9 L1430.6 419.9 L1431.4 374.2 L1432.2 440.8 L1433.1 390.5 L1433.9 396.8 L1434.7 440.8 L1435.5 419.9 L1436.3 411.4 L1437.1 384.6 L1437.9 571.0 L1438.7 390.5 L1439.5 470.3 L1440.3 429.6 L1441.2 520.6 L1442.0 379.3 L1442.8 379.3 L1443.6 419.9 L1444.4 403.7 L1445.2 470.3 L1446.0 419.9 L1446.8 429.6 L1447.6 419.9 L1448.4 429.6 L1449.3 411.4 L1450.1 419.9 L1450.9 419.9 L1451.7 419.9 L1452.5 429.6 L1453.3 419.9 L1454.1 411.4 L1454.9 419.9 L1455.7 454.1 L1456.5 411.4 L1457.4 454.1 L1458.2 419.9 L1459.0 411.4 L1459.8 419.9 L1460.6 403.7 L1461.4 429.6 L1462.2 379.3 L1463.0 396.8 L1463.8 429.6 L1464.6 440.8 L1465.5 396.8 L1466.3 429.6 L1467.1 470.3 L1467.9 440.8 L1468.7 470.3 L1469.5 429.6 L1470.3 454.1 L1471.1 470.3 L1471.9 411.4 L1472.8 454.1 L1473.6 396.8 L1474.4 419.9 L1475.2 440.8 L1476.0 454.1 L1476.8 470.3 L1477.6 454.1 L1478.4 429.6 L1479.2 520.6 L1480.0 429.6 L1480.9 470.3 L1481.7 470.3 L1482.5 470.3 L1483.3 454.1 L1484.1 429.6 L1484.9 454.1 L1485.7 429.6 L1486.5 440.8 L1487.3 454.1 L1488.1 396.8 L1489.0 403.7 L1489.8 470.3 L1490.6 440.8 L1491.4 440.8 L1492.2 454.1 L1493.0 454.1 L1493.8 396.8 L1494.6 440.8 L1495.4 403.7 L1496.2 454.1 L1497.1 429.6 L1497.9 440.8 L1498.7 419.9 L1499.5 470.3 L1500.3 520.6 L1501.1 419.9 L1501.9 411.4 L1502.7 520.6 L1503.5 411.4 L1504.3 454.1 L1505.2 520.6 L1506.0 470.3 L1506.8 491.2 L1507.6 440.8 L1508.4 384.6 L1509.2 454.1 L1510.0 429.6 L1510.8 470.3 L1511.6 491.2 L1512.4 396.8 L1513.3 419.9 L1514.1 491.2 L1514.9 470.3 L1515.7 440.8 L1516.5 429.6 L1517.3 470.3 L1518.1 520.6 L1518.9 470.3 L1519.7 440.8 L1520.5 419.9 L1521.4 571.0 L1522.2 440.8 L1523.0 440.8 L1523.8 470.3 L1524.6 454.1 L1525.4 520.6 L1526.2 454.1 L1527.0 429.6 L1527.8 470.3 L1528.6 454.1 L1529.5 440.8 L1530.3 491.2 L1531.1 470.3 L1531.9 470.3 L1532.7 491.2 L1533.5 454.1 L1534.3 520.6 L1535.1 454.1 L1535.9 440.8 L1536.7 491.2 L1537.6 571.0 L1538.4 429.6 L1539.2 429.6 L1540.0 470.3 L1540.8 429.6 L1541.6 491.2 L1542.4 491.2 L1543.2 440.8 L1544.0 520.6 L1544.8 470.3 L1545.7 454.1 L1546.5 491.2 M1548.1 419.9 L1548.9 470.3 L1549.7 491.2 L1550.5 454.1 L1551.3 429.6 L1552.1 470.3 L1552.9 454.1 L1553.8 440.8 L1554.6 411.4 L1555.4 454.1 L1556.2 440.8 L1557.0 491.2 L1557.8 491.2 L1558.6 520.6 L1559.4 491.2 L1560.2 491.2 L1561.0 440.8 L1561.9 419.9 L1562.7 520.6 L1563.5 454.1 L1564.3 403.7 L1565.1 429.6 L1565.9 491.2 L1566.7 454.1 L1567.5 454.1 L1568.3 571.0 L1569.1 520.6 L1570.0 454.1 L1570.8 470.3 L1571.6 454.1 L1572.4 520.6 L1573.2 520.6 L1574.0 440.8 L1574.8 470.3 L1575.6 470.3 L1576.4 440.8 L1577.3 520.6 L1578.1 520.6 L1578.9 470.3 L1579.7 454.1 L1580.5 491.2 L1581.3 470.3 L1582.1 454.1 L1582.9 440.8 L1583.7 491.2 L1584.5 454.1 L1585.4 520.6 L1586.2 470.3 L1587.0 454.1 L1587.8 491.2 L1588.6 454.1 L1589.4 491.2 L1590.2 454.1 L1591.0 470.3 L1591.8 470.3 L1592.6 520.6 L1593.5 491.2 L1594.3 440.8 L1595.1 520.6 L1595.9 440.8 L1596.7 440.8 L1597.5 429.6 L1598.3 470.3 L1599.1 470.3 L1599.9 470.3 L1600.7 470.3 L1601.6 440.8 L1602.4 470.3 L1603.2 470.3 L1604.0 454.1 L1604.8 491.2 L1605.6 571.0 L1606.4 429.6 L1607.2 491.2 L1608.0 470.3 L1608.8 470.3 L1609.7 454.1 L1610.5 520.6 L1611.3 491.2 L1612.1 520.6 L1612.9 454.1 L1613.7 491.2 L1614.5 403.7 L1615.3 440.8 L1616.1 419.9 L1616.9 520.6 L1617.8 520.6 L1618.6 454.1 L1619.4 470.3 L1620.2 491.2 L1621.0 491.2 M1622.6 419.9 L1623.4 571.0 L1624.2 454.1 L1625.0 491.2 L1625.9 454.1 L1626.7 571.0 L1627.5 470.3 L1628.3 491.2 L1629.1 454.1 L1629.9 520.6 L1630.7 429.6 L1631.5 411.4 L1632.3 520.6 L1633.1 571.0 L1634.0 470.3 L1634.8 491.2 L1635.6 470.3 L1636.4 419.9 L1637.2 454.1 L1638.0 454.1 L1638.8 440.8 L1639.6 470.3 L1640.4 491.2 L1641.2 520.6 L1642.1 520.6 L1642.9 470.3 L1643.7 520.6 L1644.5 520.6 L1645.3 470.3 L1646.1 454.1 L1646.9 520.6 L1647.7 429.6 L1648.5 454.1 L1649.3 491.2 L1650.2 491.2 L1651.0 520.6 L1651.8 454.1 L1652.6 440.8 L1653.4 454.1 L1654.2 571.0 L1655.0 429.6 L1655.8 491.2 L1656.6 470.3 L1657.4 520.6 L1658.3 491.2 L1659.1 520.6 M1660.7 470.3 L1661.5 491.2 L1662.3 470.3 L1663.1 491.2 L1663.9 419.9 L1664.7 470.3 L1665.5 454.1 L1666.4 520.6 L1667.2 440.8 L1668.0 454.1 L1668.8 470.3 L1669.6 571.0 L1670.4 491.2 M1672.0 520.6 L1672.8 470.3 L1673.6 491.2 L1674.5 454.1 L1675.3 454.1 L1676.1 571.0 L1676.9 520.6 L1677.7 470.3 L1678.5 491.2 L1679.3 440.8 L1680.1 454.1 L1680.9 454.1 L1681.8 470.3 L1682.6 520.6 L1683.4 491.2 M1685.0 470.3 L1685.8 571.0 L1686.6 491.2 M1688.2 571.0 L1689.0 454.1 L1689.9 520.6 L1690.7 470.3 L1691.5 491.2 L1692.3 491.2 L1693.1 429.6 L1693.9 520.6 L1694.7 491.2 L1695.5 440.8 L1696.3 491.2 L1697.1 454.1 L1698.0 454.1 L1698.8 520.6 L1699.6 520.6 L1700.4 454.1 L1701.2 470.3 L1702.0 520.6 L1702.8 520.6 L1703.6 520.6 L1704.4 454.1 L1705.2 470.3 L1706.1 520.6 L1706.9 520.6 L1707.7 470.3 L1708.5 491.2 L1709.3 470.3 L1710.1 520.6 L1710.9 520.6 L1711.7 520.6 L1712.5 491.2 L1713.3 470.3 M1715.0 571.0 L1715.8 491.2 L1716.6 454.1 L1717.4 491.2 L1718.2 429.6 L1719.0 520.6 L1719.8 491.2 L1720.6 429.6 L1721.4 454.1 L1722.3 571.0 L1723.1 491.2 L1723.9 520.6 L1724.7 520.6 L1725.5 440.8 L1726.3 491.2 L1727.1 491.2 L1727.9 520.6 L1728.7 454.1 L1729.5 491.2 L1730.4 440.8" stroke="#2C64AD"/>
<path d="M1128.0 571.0h1 M1134.4 571.0h1" stroke="#2C64AD" stroke-linecap="butt"/>
<path d="M1123.6 571.0 L1124.4 571.0 L1125.2 520.6 L1126.0 571.0 M1160.1 520.6 L1160.9 571.0 L1161.7 440.8 L1162.5 520.6 L1163.3 520.6 L1164.1 571.0 L1164.9 491.2 L1165.7 520.6 L1166.5 571.0 M1168.2 520.6 L1169.0 491.2 L1169.8 491.2 L1170.6 520.6 L1171.4 470.3 L1172.2 470.3 L1173.0 520.6 L1173.8 440.8 L1174.6 454.1 L1175.5 440.8 L1176.3 419.9 L1177.1 379.3 L1177.9 337.1 L1178.7 331.5 L1179.5 323.9 L1180.3 301.2 L1181.1 266.6 L1181.9 258.3 L1182.7 238.6 L1183.6 230.8 L1184.4 209.9 L1185.2 203.2 L1186.0 189.8 L1186.8 178.5 L1187.6 175.3 L1188.4 168.4 L1189.2 155.1 L1190.0 151.2 L1190.8 151.9 L1191.7 135.0 L1192.5 127.3 L1193.3 122.1 L1194.1 124.3 L1194.9 118.9 L1195.7 113.2 L1196.5 114.1 L1197.3 107.6 L1198.1 99.3 L1198.9 99.8 L1199.8 90.9 L1200.6 89.1 L1201.4 86.4 L1202.2 84.6 L1203.0 84.1 L1203.8 79.3 L1204.6 82.9 L1205.4 78.7 L1206.2 73.1 L1207.0 77.2 L1207.9 71.9 L1208.7 69.1 L1209.5 73.4 L1210.3 76.2 L1211.1 79.0 L1211.9 76.8 L1212.7 78.6 L1213.5 77.2 L1214.3 80.0 L1215.1 84.1 L1216.0 82.6 L1216.8 89.4 L1217.6 91.1 L1218.4 99.0 L1219.2 95.9 L1220.0 96.3 L1220.8 97.0 L1221.6 102.6 L1222.4 106.3 L1223.2 106.3 L1224.1 114.5 L1224.9 113.7 L1225.7 111.6 L1226.5 117.7 L1227.3 119.5 L1228.1 119.5 L1228.9 129.4 L1229.7 124.9 L1230.5 129.7 L1231.3 134.2 L1232.2 136.2 L1233.0 138.5 L1233.8 135.7 L1234.6 136.4 L1235.4 150.5 L1236.2 145.6 L1237.0 147.7 L1237.8 147.5 L1238.6 147.7 L1239.4 153.0 L1240.3 158.0 L1241.1 155.4 L1241.9 161.9 L1242.7 171.9 L1243.5 162.4 L1244.3 159.3 L1245.1 167.3 L1245.9 178.5 L1246.7 177.5 L1247.5 185.0 L1248.4 172.5 L1249.2 185.7 L1250.0 183.5 L1250.8 191.7 L1251.6 186.0 L1252.4 192.1 L1253.2 197.8 L1254.0 190.1 L1254.8 194.9 L1255.6 191.7 L1256.5 195.7 L1257.3 213.5 L1258.1 192.9 L1258.9 204.6 L1259.7 208.9 L1260.5 197.8 L1261.3 217.3 L1262.1 214.6 L1262.9 215.7 L1263.7 222.0 L1264.6 219.6 L1265.4 211.4 L1266.2 228.2 L1267.0 224.4 L1267.8 228.8 L1268.6 220.2 L1269.4 225.6 L1270.2 228.2 L1271.0 242.5 L1271.9 228.2 L1272.7 244.9 L1273.5 244.9 L1274.3 244.1 L1275.1 244.1 L1275.9 243.3 L1276.7 236.4 L1277.5 235.7 L1278.3 259.3 L1279.1 250.8 L1280.0 237.1 L1280.8 259.3 L1281.6 256.3 L1282.4 263.4 L1283.2 258.3 L1284.0 258.3 L1284.8 254.5 L1285.6 294.4 L1286.4 267.7 L1287.2 283.9 L1288.1 268.8 L1288.9 288.2 L1289.7 273.5 L1290.5 296.1 L1291.3 283.9 L1292.1 294.4 L1292.9 321.5 L1293.7 289.7 L1294.5 301.2 L1295.3 306.7 L1296.2 296.1 L1297.0 294.4 L1297.8 306.7 L1298.6 312.7 L1299.4 301.2 L1300.2 310.6 L1301.0 314.8 L1301.8 306.7 L1302.6 343.2 L1303.4 312.7 L1304.3 319.2 L1305.1 331.5 L1305.9 297.7 L1306.7 319.2 L1307.5 334.3 L1308.3 306.7 L1309.1 319.2 L1309.9 319.2 L1310.7 334.3 L1311.5 328.9 L1312.4 310.6 L1313.2 326.3 L1314.0 312.7 L1314.8 321.5 L1315.6 357.1 L1316.4 328.9 L1317.2 349.8 L1318.0 343.2 L1318.8 334.3 L1319.6 379.3 L1320.5 334.3 L1321.3 349.8 L1322.1 328.9 L1322.9 361.0 L1323.7 343.2 L1324.5 340.1 L1325.3 369.6 L1326.1 343.2 L1326.9 331.5 L1327.7 353.3 L1328.6 374.2 L1329.4 346.4 L1330.2 365.1 L1331.0 349.8 L1331.8 390.5 L1332.6 403.7 L1333.4 374.2 L1334.2 365.1 L1335.0 369.6 L1335.8 374.2 L1336.7 365.1 L1337.5 411.4 L1338.3 357.1 L1339.1 384.6 L1339.9 384.6 L1340.7 374.2 L1341.5 384.6 L1342.3 403.7 L1343.1 411.4 L1343.9 403.7 L1344.8 384.6 L1345.6 454.1 L1346.4 470.3 L1347.2 379.3 L1348.0 454.1 L1348.8 429.6 L1349.6 411.4 L1350.4 419.9 L1351.2 374.2 L1352.0 411.4 L1352.9 419.9 L1353.7 470.3 L1354.5 440.8 L1355.3 374.2 L1356.1 454.1 L1356.9 440.8 L1357.7 440.8 L1358.5 454.1 L1359.3 440.8 L1360.1 390.5 L1361.0 419.9 L1361.8 403.7 L1362.6 411.4 L1363.4 419.9 L1364.2 429.6 L1365.0 491.2 L1365.8 440.8 L1366.6 419.9 L1367.4 429.6 L1368.2 411.4 L1369.1 429.6 L1369.9 470.3 L1370.7 454.1 L1371.5 440.8 L1372.3 491.2 L1373.1 454.1 L1373.9 520.6 L1374.7 429.6 L1375.5 429.6 L1376.4 440.8 L1377.2 470.3 L1378.0 470.3 L1378.8 454.1 L1379.6 429.6 L1380.4 454.1 L1381.2 491.2 L1382.0 491.2 L1382.8 491.2 L1383.6 470.3 L1384.5 571.0 L1385.3 491.2 L1386.1 470.3 L1386.9 491.2 L1387.7 571.0 L1388.5 429.6 L1389.3 470.3 L1390.1 440.8 L1390.9 470.3 L1391.7 520.6 L1392.6 440.8 L1393.4 454.1 L1394.2 491.2 L1395.0 520.6 L1395.8 470.3 L1396.6 429.6 L1397.4 454.1 L1398.2 454.1 L1399.0 491.2 L1399.8 440.8 L1400.7 454.1 L1401.5 571.0 L1402.3 520.6 L1403.1 470.3 M1407.9 470.3 L1408.8 491.2 L1409.6 491.2 L1410.4 470.3 L1411.2 491.2 L1412.0 520.6 L1412.8 571.0 M1414.4 429.6 L1415.2 520.6 L1416.0 454.1 L1416.9 491.2 L1417.7 571.0 L1418.5 491.2 L1419.3 571.0 L1420.1 491.2 L1420.9 491.2 L1421.7 571.0 L1422.5 520.6 M1424.1 571.0 L1425.0 571.0 L1425.8 429.6 L1426.6 571.0 L1427.4 520.6 L1428.2 470.3 L1429.0 491.2 L1429.8 454.1 L1430.6 520.6 L1431.4 491.2 L1432.2 491.2 L1433.1 440.8 L1433.9 520.6 L1434.7 470.3 M1436.3 571.0 L1437.1 571.0 M1438.7 520.6 L1439.5 571.0 L1440.3 571.0 L1441.2 470.3 L1442.0 520.6 L1442.8 571.0 L1443.6 520.6 L1444.4 571.0 L1445.2 571.0 L1446.0 571.0 L1446.8 491.2 L1447.6 520.6 L1448.4 520.6 M1450.1 571.0 L1450.9 571.0 L1451.7 491.2 L1452.5 491.2 L1453.3 571.0 L1454.1 491.2 L1454.9 440.8 L1455.7 520.6 M1457.4 571.0 L1458.2 520.6 M1459.8 571.0 L1460.6 571.0 L1461.4 520.6 L1462.2 520.6 L1463.0 520.6 L1463.8 491.2 M1467.1 520.6 L1467.9 520.6 L1468.7 520.6 M1470.3 571.0 L1471.1 520.6 L1471.9 491.2 L1472.8 520.6 L1473.6 491.2 L1474.4 571.0 M1478.4 571.0 L1479.2 571.0 M1480.9 520.6 L1481.7 520.6 M1484.1 571.0 L1484.9 520.6 L1485.7 571.0 L1486.5 520.6 M1488.1 520.6 L1489.0 571.0 L1489.8 520.6 L1490.6 571.0 L1491.4 571.0 M1493.0 571.0 L1493.8 571.0 M1495.4 491.2 L1496.2 571.0 L1497.1 470.3 M1501.9 491.2 L1502.7 571.0 L1503.5 454.1 L1504.3 520.6 M1509.2 520.6 L1510.0 571.0 M1511.6 571.0 L1512.4 520.6 L1513.3 491.2 M1520.5 571.0 L1521.4 571.0 L1522.2 571.0 L1523.0 571.0 L1523.8 571.0 L1524.6 571.0 L1525.4 571.0 L1526.2 491.2 M1527.8 520.6 L1528.6 571.0 M1530.3 571.0 L1531.1 520.6 M1534.3 520.6 L1535.1 520.6 L1535.9 571.0 L1536.7 571.0 L1537.6 571.0 M1539.2 571.0 L1540.0 571.0 L1540.8 571.0 M1544.8 571.0 L1545.7 571.0 L1546.5 571.0 L1547.3 491.2 M1548.9 571.0 L1549.7 520.6 L1550.5 571.0 M1552.1 571.0 L1552.9 520.6 M1556.2 571.0 L1557.0 571.0 M1567.5 571.0 L1568.3 491.2 L1569.1 571.0 M1579.7 571.0 L1580.5 571.0 L1581.3 571.0 M1583.7 571.0 L1584.5 571.0 M1587.8 571.0 L1588.6 571.0 M1602.4 571.0 L1603.2 571.0 M1611.3 571.0 L1612.1 571.0 L1612.9 571.0 M1634.8 520.6 L1635.6 571.0 M1641.2 571.0 L1642.1 571.0 L1642.9 520.6 M1660.7 571.0 L1661.5 571.0 M1663.1 571.0 L1663.9 571.0 L1664.7 520.6 M1685.8 571.0 L1686.6 571.0 M1689.9 520.6 L1690.7 571.0 M1700.4 571.0 L1701.2 571.0 L1702.0 571.0 M1725.5 571.0 L1726.3 571.0 L1727.1 491.2" stroke="#E10A19"/>
<path d="M1089.9 571.0h1 M1157.9 520.6h1 M1404.2 440.8h1 M1405.8 429.6h1 M1465.0 470.3h1 M1476.3 520.6h1 M1499.8 491.2h1 M1505.5 571.0h1 M1517.6 491.2h1 M1532.2 571.0h1 M1541.9 520.6h1 M1554.1 571.0h1 M1558.9 571.0h1 M1562.2 571.0h1 M1563.8 571.0h1 M1575.9 571.0h1 M1577.6 571.0h1 M1585.7 571.0h1 M1592.1 571.0h1 M1593.8 520.6h1 M1595.4 571.0h1 M1598.6 571.0h1 M1604.3 571.0h1 M1607.5 491.2h1 M1615.6 571.0h1 M1618.9 571.0h1 M1622.9 571.0h1 M1626.2 571.0h1 M1646.4 571.0h1 M1650.5 571.0h1 M1653.7 571.0h1 M1655.3 571.0h1 M1656.9 571.0h1 M1666.7 571.0h1 M1669.1 571.0h1 M1675.6 571.0h1 M1678.0 571.0h1 M1679.6 571.0h1 M1687.7 571.0h1 M1692.6 571.0h1 M1694.2 571.0h1 M1696.6 571.0h1 M1703.9 571.0h1 M1705.6 571.0h1 M1708.0 520.6h1 M1712.0 571.0h1 M1716.1 571.0h1 M1719.3 571.0h1 M1723.4 571.0h1" stroke="#E10A19" stroke-linecap="butt"/>
</g>
<path d="M1066.9 62.0 H1730.9 V596.9 H1066.9 Z" fill="none" stroke="#000" stroke-width="3.7" stroke-linejoin="miter"/>
<line x1="1066.90" y1="596.9" x2="1066.90" y2="607.3" stroke="#000" stroke-width="3.7"/>
<text transform="translate(1066.90 637.70) scale(1 1.041)" font-size="30" text-anchor="middle">0</text>
<line x1="1149.90" y1="596.9" x2="1149.90" y2="601.9" stroke="#000" stroke-width="3.7"/>
<line x1="1232.90" y1="596.9" x2="1232.90" y2="607.3" stroke="#000" stroke-width="3.7"/>
<text transform="translate(1232.90 637.70) scale(1 1.041)" font-size="30" text-anchor="middle">10</text>
<line x1="1315.90" y1="596.9" x2="1315.90" y2="601.9" stroke="#000" stroke-width="3.7"/>
<line x1="1398.90" y1="596.9" x2="1398.90" y2="607.3" stroke="#000" stroke-width="3.7"/>
<text transform="translate(1398.90 637.70) scale(1 1.041)" font-size="30" text-anchor="middle">20</text>
<line x1="1481.90" y1="596.9" x2="1481.90" y2="601.9" stroke="#000" stroke-width="3.7"/>
<line x1="1564.90" y1="596.9" x2="1564.90" y2="607.3" stroke="#000" stroke-width="3.7"/>
<text transform="translate(1564.90 637.70) scale(1 1.041)" font-size="30" text-anchor="middle">30</text>
<line x1="1647.90" y1="596.9" x2="1647.90" y2="601.9" stroke="#000" stroke-width="3.7"/>
<line x1="1730.90" y1="596.9" x2="1730.90" y2="607.3" stroke="#000" stroke-width="3.7"/>
<text transform="translate(1730.90 637.70) scale(1 1.041)" font-size="30" text-anchor="middle">40</text>
<line x1="1066.9" y1="596.92" x2="1061.9" y2="596.92" stroke="#000" stroke-width="3.7"/>
<line x1="1066.9" y1="587.21" x2="1061.9" y2="587.21" stroke="#000" stroke-width="3.7"/>
<line x1="1066.9" y1="578.66" x2="1061.9" y2="578.66" stroke="#000" stroke-width="3.7"/>
<line x1="1066.9" y1="571.00" x2="1056.5" y2="571.00" stroke="#000" stroke-width="3.7"/>
<text transform="translate(1004.60 582.40) scale(1 1.041)" font-size="30">10<tspan font-size="21" dy="-12.39">0</tspan></text>
<line x1="1066.9" y1="520.64" x2="1061.9" y2="520.64" stroke="#000" stroke-width="3.7"/>
<line x1="1066.9" y1="491.18" x2="1061.9" y2="491.18" stroke="#000" stroke-width="3.7"/>
<line x1="1066.9" y1="470.28" x2="1061.9" y2="470.28" stroke="#000" stroke-width="3.7"/>
<line x1="1066.9" y1="454.06" x2="1061.9" y2="454.06" stroke="#000" stroke-width="3.7"/>
<line x1="1066.9" y1="440.82" x2="1061.9" y2="440.82" stroke="#000" stroke-width="3.7"/>
<line x1="1066.9" y1="429.62" x2="1061.9" y2="429.62" stroke="#000" stroke-width="3.7"/>
<line x1="1066.9" y1="419.91" x2="1061.9" y2="419.91" stroke="#000" stroke-width="3.7"/>
<line x1="1066.9" y1="411.36" x2="1061.9" y2="411.36" stroke="#000" stroke-width="3.7"/>
<line x1="1066.9" y1="403.70" x2="1056.5" y2="403.70" stroke="#000" stroke-width="3.7"/>
<text transform="translate(1004.60 415.10) scale(1 1.041)" font-size="30">10<tspan font-size="21" dy="-12.39">1</tspan></text>
<line x1="1066.9" y1="353.34" x2="1061.9" y2="353.34" stroke="#000" stroke-width="3.7"/>
<line x1="1066.9" y1="323.88" x2="1061.9" y2="323.88" stroke="#000" stroke-width="3.7"/>
<line x1="1066.9" y1="302.98" x2="1061.9" y2="302.98" stroke="#000" stroke-width="3.7"/>
<line x1="1066.9" y1="286.76" x2="1061.9" y2="286.76" stroke="#000" stroke-width="3.7"/>
<line x1="1066.9" y1="273.52" x2="1061.9" y2="273.52" stroke="#000" stroke-width="3.7"/>
<line x1="1066.9" y1="262.32" x2="1061.9" y2="262.32" stroke="#000" stroke-width="3.7"/>
<line x1="1066.9" y1="252.61" x2="1061.9" y2="252.61" stroke="#000" stroke-width="3.7"/>
<line x1="1066.9" y1="244.06" x2="1061.9" y2="244.06" stroke="#000" stroke-width="3.7"/>
<line x1="1066.9" y1="236.40" x2="1056.5" y2="236.40" stroke="#000" stroke-width="3.7"/>
<text transform="translate(1004.60 247.80) scale(1 1.041)" font-size="30">10<tspan font-size="21" dy="-12.39">2</tspan></text>
<line x1="1066.9" y1="186.04" x2="1061.9" y2="186.04" stroke="#000" stroke-width="3.7"/>
<line x1="1066.9" y1="156.58" x2="1061.9" y2="156.58" stroke="#000" stroke-width="3.7"/>
<line x1="1066.9" y1="135.68" x2="1061.9" y2="135.68" stroke="#000" stroke-width="3.7"/>
<line x1="1066.9" y1="119.46" x2="1061.9" y2="119.46" stroke="#000" stroke-width="3.7"/>
<line x1="1066.9" y1="106.22" x2="1061.9" y2="106.22" stroke="#000" stroke-width="3.7"/>
<line x1="1066.9" y1="95.02" x2="1061.9" y2="95.02" stroke="#000" stroke-width="3.7"/>
<line x1="1066.9" y1="85.31" x2="1061.9" y2="85.31" stroke="#000" stroke-width="3.7"/>
<line x1="1066.9" y1="76.76" x2="1061.9" y2="76.76" stroke="#000" stroke-width="3.7"/>
<line x1="1066.9" y1="69.10" x2="1056.5" y2="69.10" stroke="#000" stroke-width="3.7"/>
<text transform="translate(1004.60 80.50) scale(1 1.041)" font-size="30">10<tspan font-size="21" dy="-12.39">3</tspan></text>
<text transform="translate(-1.50 26.40) scale(1 1.041)" font-size="36">(a)</text>
<text transform="translate(923.50 26.40) scale(1 1.041)" font-size="36">(b)</text>
<text transform="translate(470.00 687.20) scale(1 1.041)" font-size="41" text-anchor="middle">Times (ns)</text>
<text transform="translate(1396.00 687.20) scale(1 1.041)" font-size="41" text-anchor="middle">Times (ns)</text>
<text transform="translate(51.00 323.80) rotate(-90) scale(1 1.041)" font-size="41" text-anchor="middle">Counts</text>
<text transform="translate(977.40 323.30) rotate(-90) scale(1 1.041)" font-size="41" text-anchor="middle">Counts</text>
<line x1="321.9" y1="83.4" x2="395.7" y2="83.4" stroke="#000000" stroke-width="5"/>
<text transform="translate(404.30 95.20) scale(1 1.015)" font-size="33.35" xml:space="preserve" style="white-space:pre">IR</text>
<line x1="321.9" y1="124.7" x2="395.7" y2="124.7" stroke="#2C64AD" stroke-width="5"/>
<text transform="translate(404.30 135.80) scale(1 1.015)" font-size="33.35" xml:space="preserve" style="white-space:pre">PyDPA at 520 nm</text>
<line x1="321.9" y1="166.1" x2="395.7" y2="166.1" stroke="#E10A19" stroke-width="5"/>
<text transform="translate(404.30 177.00) scale(1 1.015)" font-size="33.35" xml:space="preserve" style="white-space:pre">PyDPA+ MPEA at 520 nm</text>
<line x1="1247.2" y1="86.8" x2="1321.0" y2="86.8" stroke="#000000" stroke-width="5"/>
<text transform="translate(1329.30 98.10) scale(1 1.015)" font-size="33" xml:space="preserve" style="white-space:pre">IR</text>
<line x1="1247.2" y1="128.1" x2="1321.0" y2="128.1" stroke="#2C64AD" stroke-width="5"/>
<text transform="translate(1329.30 140.00) scale(1 1.015)" font-size="33" xml:space="preserve" style="white-space:pre">PyDMA  at 520 nm</text>
<line x1="1247.2" y1="169.7" x2="1321.0" y2="169.7" stroke="#E10A19" stroke-width="5"/>
<text transform="translate(1329.30 180.50) scale(1 1.015)" font-size="33" xml:space="preserve" style="white-space:pre">PyDMA+ MPEA at 520 nm</text>
</svg>
</body></html>
